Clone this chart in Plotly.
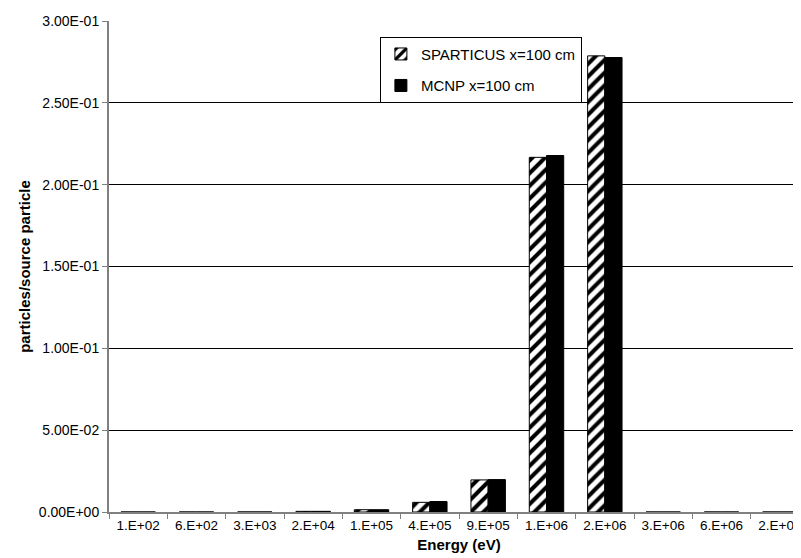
import plotly.graph_objects as go

categories = ["1.E+02", "6.E+02", "3.E+03", "2.E+04", "1.E+05", "4.E+05",
              "9.E+05", "1.E+06", "2.E+06", "3.E+06", "6.E+06", "2.E+07"]
sparticus = [0.0, 0.0, 0.00002, 0.0004, 0.0014, 0.0059, 0.0196, 0.2167, 0.2787, 0.0, 0.0, 0.0]
mcnp = [0.0, 0.0, 0.00002, 0.0004, 0.0014, 0.0064, 0.0198, 0.2178, 0.2777, 0.0, 0.0, 0.0]
ytick_vals = [0.0, 0.05, 0.10, 0.15, 0.20, 0.25, 0.30]
ytick_text = ["0.00E+00", "5.00E-02", "1.00E-01", "1.50E-01", "2.00E-01", "2.50E-01", "3.00E-01"]

FONT = "Arial, Liberation Sans, sans-serif"

fig = go.Figure()
fig.add_trace(go.Bar(
    x=categories, y=sparticus, name="SPARTICUS x=100 cm", legendgroup="a",
    marker=dict(color="white", line=dict(color="black", width=1),
                pattern=dict(shape="/", fgcolor="black", bgcolor="white",
                             size=9, solidity=0.45, fillmode="replace")),
))
fig.add_trace(go.Bar(
    x=categories, y=mcnp, name="MCNP x=100 cm", legendgroup="b",
    marker=dict(color="black", line=dict(color="black", width=1)),
))

fig.update_layout(
    width=801, height=558,
    margin=dict(l=101, r=0, t=13, b=54),
    paper_bgcolor="white", plot_bgcolor="white",
    barmode="group", bargap=0.41, bargroupgap=0.0,
    font=dict(family=FONT, size=13, color="black"),
    showlegend=True,
    legend=dict(
        x=0.387, y=0.968, xanchor="left", yanchor="top",
        bgcolor="white", bordercolor="black", borderwidth=1,
        font=dict(family=FONT, size=15, color="black"),
        tracegroupgap=9, itemwidth=30, traceorder="grouped",
    ),
    xaxis=dict(
        type="category", range=[-0.5, 11.5],
        showline=True, linecolor="#808080", linewidth=2,
        ticks="outside", tickson="boundaries", ticklen=5, tickcolor="#808080",
        tickfont=dict(family=FONT, size=13.5),
        title=dict(text="<b>Energy (eV)</b>", font=dict(family=FONT, size=15), standoff=7),
        showgrid=False, fixedrange=True,
    ),
    yaxis=dict(
        range=[0, 0.3],
        tickvals=ytick_vals, ticktext=ytick_text,
        showline=True, linecolor="#808080", linewidth=2,
        ticks="outside", ticklen=5, tickcolor="#808080",
        showgrid=True, gridcolor="black", gridwidth=1,
        zeroline=False,
        tickfont=dict(family=FONT, size=14),
        title=dict(text="<b>particles/source particle</b>", font=dict(family=FONT, size=15), standoff=5),
    ),
)

fig.write_html("out.html")
